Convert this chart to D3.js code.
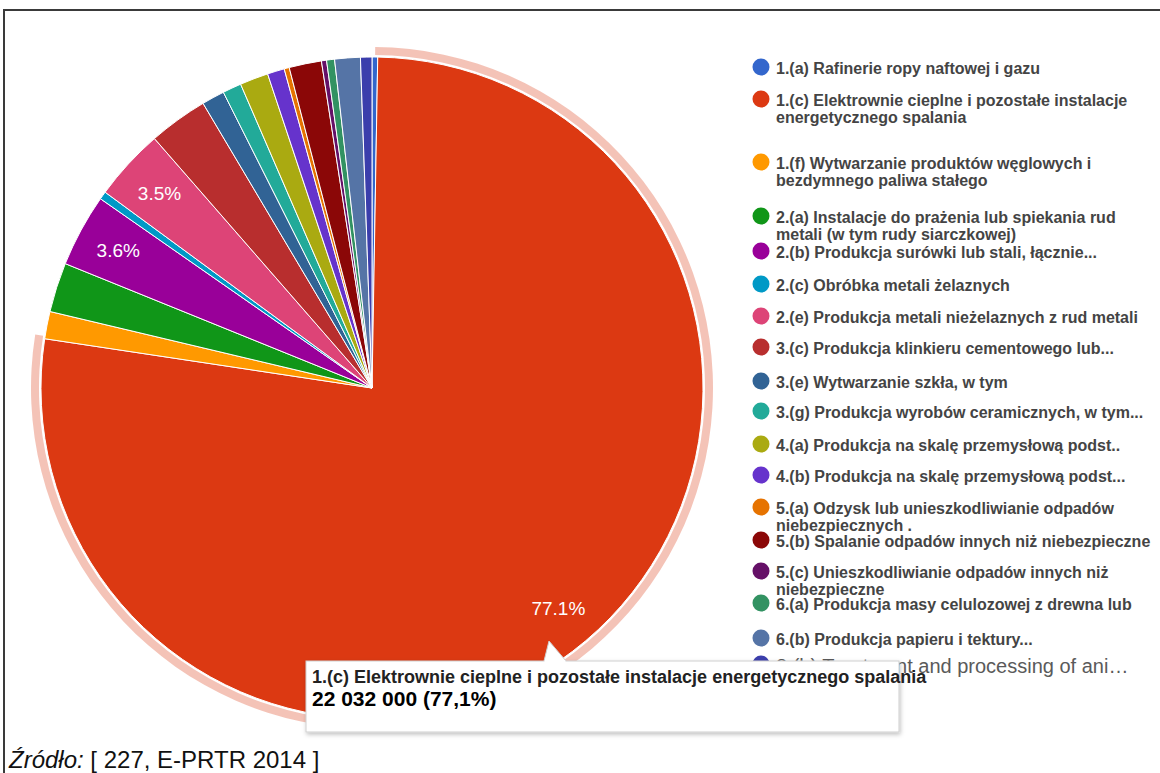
<!DOCTYPE html>
<html>
<head>
<meta charset="utf-8">
<script src="https://cdn.jsdelivr.net/npm/d3@7"></script>
<style>
    body { margin: 0; background: #fff; }
    svg { display: block; font-family: 'Liberation Sans', Arial, sans-serif; }
</style>
</head>
<body>
<div id="pie-chart"></div>
<script>

// categories (E-PRTR activities), as shown in the legend
const categories = [
    "1.(a) Rafinerie ropy naftowej i gazu",
    "1.(c) Elektrownie cieplne i pozostałe instalacje energetycznego spalania",
    "1.(f) Wytwarzanie produktów węglowych i bezdymnego paliwa stałego",
    "2.(a) Instalacje do prażenia lub spiekania rud metali (w tym rudy siarczkowej)",
    "2.(b) Produkcja surówki lub stali, łącznie...",
    "2.(c) Obróbka metali żelaznych",
    "2.(e) Produkcja metali nieżelaznych z rud metali",
    "3.(c) Produkcja klinkieru cementowego lub...",
    "3.(e) Wytwarzanie szkła, w tym",
    "3.(g) Produkcja wyrobów ceramicznych, w tym...",
    "4.(a) Produkcja na skalę przemysłową podst..",
    "4.(b) Produkcja na skalę przemysłową podst...",
    "5.(a) Odzysk lub unieszkodliwianie odpadów niebezpiecznych .",
    "5.(b) Spalanie odpadów innych niż niebezpieczne",
    "5.(c) Unieszkodliwianie odpadów innych niż niebezpieczne",
    "6.(a) Produkcja masy celulozowej z drewna lub",
    "6.(b) Produkcja papieru i tektury...",
    "8.(b) Treatment and processing of ani…"
];

// emissions per category
const emissions = [
    79000, 22032000, 381000, 691000, 1016000, 111000, 1003000, 826000, 318000,
    262000, 397000, 238000, 71000, 452000, 71000, 111000, 357000, 159000
];

const sliceColors = [
    "#3366cc", "#dc3912", "#ff9900", "#109618", "#990099", "#0099c6",
    "#dd4477", "#b82e2e", "#316395", "#22aa99", "#aaaa11", "#6633cc",
    "#e67300", "#8b0707", "#651067", "#329262", "#5574a6", "#3b3eac"
];

// the hovered slice (tooltip + ring)
const highlighted = 1;

// legend row positions (layout only)
const legendRowY = [67, 99, 162, 216, 251, 284, 316, 347, 381, 411, 444, 475, 507, 540, 571, 603, 638, 664];

const sourceLabel = "Źródło:";
const sourceRef = " [ 227, E-PRTR 2014 ]";


class PieVis {

    constructor(parentElement, labels, values, colors) {
        this.parentElement = parentElement;
        this.labels = labels;
        this.values = values;
        this.colors = colors;
        this.displayData = [];

        // polish number format for the tooltip
        this.plLocale = d3.formatLocale({decimal: ",", thousands: " ", grouping: [3], currency: ["", " zł"]});

        this.initVis();
    }

    initVis() {
        let vis = this;

        vis.width = 1160;
        vis.height = 773;

        vis.svg = d3.select("#" + vis.parentElement).append("svg")
            .attr("width", vis.width)
            .attr("height", vis.height);

        // drop shadow for the tooltip box
        let filter = vis.svg.append("defs").append("filter")
            .attr("id", "tip-shadow")
            .attr("x", "-5%").attr("y", "-20%")
            .attr("width", "115%").attr("height", "150%");
        filter.append("feDropShadow")
            .attr("dx", 1).attr("dy", 2)
            .attr("stdDeviation", 2)
            .attr("flood-color", "#000")
            .attr("flood-opacity", 0.25);

        // frame of the screenshot
        vis.svg.append("line")
            .attr("x1", 3).attr("x2", vis.width)
            .attr("y1", 10).attr("y2", 10)
            .attr("stroke", "#3a3a3a").attr("stroke-width", 2);
        vis.svg.append("line")
            .attr("x1", 4).attr("x2", 4)
            .attr("y1", 10).attr("y2", vis.height)
            .attr("stroke", "#3a3a3a").attr("stroke-width", 2);

        vis.radius = 331;
        vis.center = {x: 372, y: 388};

        vis.pie = d3.pie()
            .sort(null)
            .value(d => d.value);

        vis.arc = d3.arc()
            .innerRadius(0)
            .outerRadius(vis.radius);

        vis.ringArc = d3.arc()
            .innerRadius(vis.radius + 2)
            .outerRadius(vis.radius + 10);

        vis.pieGroup = vis.svg.append("g")
            .attr("class", "pie")
            .attr("transform", `translate(${vis.center.x}, ${vis.center.y})`);

        vis.legend = vis.svg.append("g")
            .attr("class", "legend");

        vis.tooltip = vis.svg.append("g")
            .attr("class", "tooltip");

        vis.wrangleData();
    }

    wrangleData() {
        let vis = this;

        vis.displayData = vis.labels.map((label, i) => ({
            label: label,
            value: vis.values[i],
            color: vis.colors[i]
        }));

        vis.total = d3.sum(vis.displayData, d => d.value);

        vis.updateVis();
    }

    updateVis() {
        let vis = this;

        let arcs = vis.pie(vis.displayData);
        let pct = d3.format(".1%");

        // ring around the hovered slice
        let hov = arcs[highlighted];
        vis.pieGroup.append("path")
            .attr("d", vis.ringArc({startAngle: hov.startAngle - 0.008, endAngle: hov.endAngle + 0.008}))
            .attr("fill", hov.data.color)
            .attr("fill-opacity", 0.3);

        vis.pieGroup.selectAll(".slice")
            .data(arcs)
            .enter()
            .append("path")
            .attr("class", "slice")
            .attr("d", vis.arc)
            .attr("fill", d => d.data.color)
            .attr("stroke", "#fff")
            .attr("stroke-width", 1);

        // percentage labels only on the bigger slices
        vis.pieGroup.selectAll(".slice-label")
            .data(arcs.filter(d => d.data.value / vis.total >= 0.034))
            .enter()
            .append("text")
            .attr("class", "slice-label")
            .attr("transform", d => {
                let a = (d.startAngle + d.endAngle) / 2;
                let r = vis.radius * 0.872;
                return `translate(${Math.sin(a) * r}, ${-Math.cos(a) * r})`;
            })
            .attr("text-anchor", "middle")
            .attr("dy", "0.36em")
            .attr("fill", "#fff")
            .attr("font-size", "19px")
            .text(d => pct(d.data.value / vis.total));

        // legend
        let items = vis.legend.selectAll(".legend-item")
            .data(vis.displayData)
            .enter()
            .append("g")
            .attr("class", "legend-item")
            .attr("transform", (d, i) => `translate(761, ${legendRowY[i]})`);

        items.append("circle")
            .attr("r", 8.5)
            .attr("fill", d => d.color);

        items.each(function(d, i) {
            let g = d3.select(this);
            let last = i === vis.displayData.length - 1;
            let txt = g.append("text")
                .attr("x", 15)
                .attr("y", last ? 9 : 7)
                .attr("fill", last ? "#5a5a5a" : "#444")
                .attr("font-size", last ? "20px" : "16px")
                .attr("font-weight", last ? "normal" : "bold");
            if (last) {
                txt.text(d.label);
                return;
            }
            // simple word wrap
            let words = d.label.split(" ");
            let line = [];
            let lineNo = 0;
            let tspan = txt.append("tspan").attr("x", 15).attr("dy", 0);
            words.forEach(w => {
                line.push(w);
                tspan.text(line.join(" "));
                if (tspan.node().getComputedTextLength() > 380 && line.length > 1) {
                    line.pop();
                    tspan.text(line.join(" "));
                    line = [w];
                    lineNo++;
                    tspan = txt.append("tspan").attr("x", 15).attr("dy", 17).text(w);
                }
            });
        });

        // tooltip of the hovered slice
        let box = {x: 306, y: 661, w: 593, h: 71};
        let tipFormat = vis.plLocale.format(",.0f");
        let tipPct = vis.plLocale.format(".1%");

        vis.tooltip.append("rect")
            .attr("x", box.x).attr("y", box.y)
            .attr("width", box.w).attr("height", box.h)
            .attr("fill", "#fff")
            .attr("stroke", "#cfcfcf")
            .attr("stroke-width", 1)
            .attr("filter", "url(#tip-shadow)");

        vis.tooltip.append("path")
            .attr("d", `M${box.x + 238},${box.y} L${box.x + 243},${box.y - 20} L${box.x + 260},${box.y}`)
            .attr("fill", "#fff")
            .attr("stroke", "#cfcfcf")
            .attr("stroke-width", 1);
        vis.tooltip.append("line")
            .attr("x1", box.x + 238.5).attr("x2", box.x + 259.5)
            .attr("y1", box.y + 0.5).attr("y2", box.y + 0.5)
            .attr("stroke", "#fff").attr("stroke-width", 2);

        vis.tooltip.append("text")
            .attr("x", box.x + 6)
            .attr("y", box.y + 22)
            .attr("font-size", "18px")
            .attr("font-weight", "bold")
            .attr("fill", "#222")
            .text(hov.data.label);

        vis.tooltip.append("text")
            .attr("x", box.x + 6)
            .attr("y", box.y + 45)
            .attr("font-size", "21px")
            .attr("font-weight", "bold")
            .attr("fill", "#000")
            .text(`${tipFormat(hov.data.value)} (${tipPct(hov.data.value / vis.total)})`);

        // source note
        let src = vis.svg.append("text")
            .attr("x", 9)
            .attr("y", 768)
            .attr("font-size", "24px")
            .attr("fill", "#111");
        src.append("tspan").attr("font-style", "italic").text(sourceLabel);
        src.append("tspan").text(sourceRef);
    }
}

new PieVis("pie-chart", categories, emissions, sliceColors);

</script>
</body>
</html>
